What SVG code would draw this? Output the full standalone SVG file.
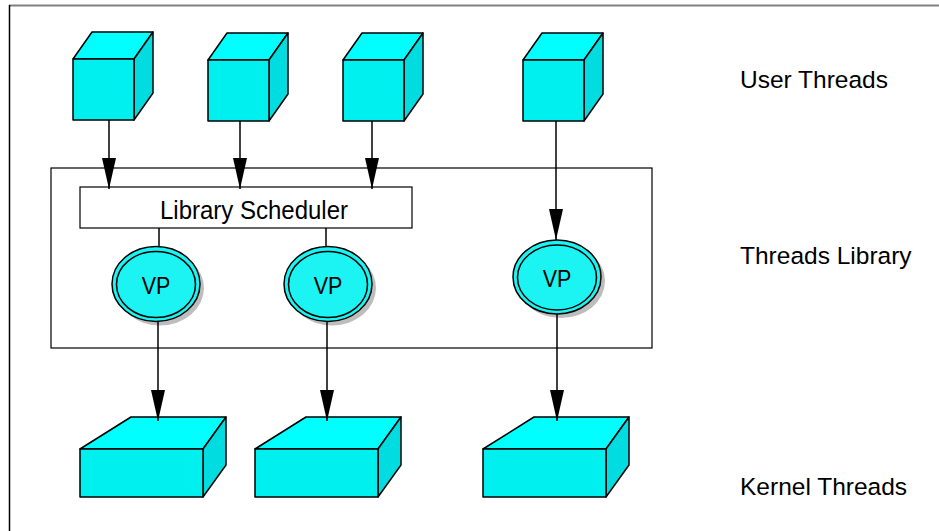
<svg xmlns="http://www.w3.org/2000/svg" width="939" height="531" viewBox="0 0 939 531">
  <style>
    .edge { stroke: #000; stroke-width: 1.5; fill: none; }
    .front { fill: #00F0F0; stroke: #000; stroke-width: 1.5; stroke-linejoin: round; }
    .top { fill: #00FFFF; stroke: #000; stroke-width: 1.5; stroke-linejoin: round; }
    .side { fill: #00DCE0; stroke: #000; stroke-width: 1.5; stroke-linejoin: round; }
    .vp-shadow { fill: #BDBDBD; }
    .vp-ring { fill: #1CF4F4; stroke: #000; stroke-width: 1.5; }
    .vp-core { fill: none; stroke: #000; stroke-width: 1.5; }
    .lbl { font-family: "Liberation Sans", Arial, sans-serif; fill: #000; }
    .box { fill: #fff; stroke: #000; stroke-width: 1.2; }
  </style>
  <defs>
    <marker id="arrow" markerUnits="userSpaceOnUse" markerWidth="31" markerHeight="14" refX="31" refY="7" orient="auto">
      <path d="M0,0 L31,7 L0,14 z" fill="#000"/>
    </marker>
  </defs>

  <rect width="939" height="531" fill="#fff"/>
  <!-- page frame -->
  <line x1="9" y1="5.5" x2="939" y2="5.5" stroke="#808080" stroke-width="2"/>
  <line x1="9.5" y1="5" x2="9.5" y2="531" stroke="#000" stroke-width="1.5"/>

  <!-- threads library container -->
  <g id="library">
    <rect class="box" x="51" y="168" width="601" height="180"/>
  </g>
  <g id="scheduler">
    <rect class="box" x="80" y="187" width="332" height="41"/>
    <text class="lbl" font-size="24" text-anchor="middle" transform="translate(254,219) scale(1,1.06)">Library Scheduler</text>
  </g>

  <!-- user threads -->
  <g id="user1">
    <polygon class="top" points="73,59 92,32 153,32 134,59"/>
    <polygon class="side" points="134,59 153,32 153,93 134,120"/>
    <rect class="front" x="73" y="59" width="61" height="61"/>
  </g>
  <g id="user2">
    <polygon class="top" points="208,60 227,33 288,33 269,60"/>
    <polygon class="side" points="269,60 288,33 288,94 269,121"/>
    <rect class="front" x="208" y="60" width="61" height="61"/>
  </g>
  <g id="user3">
    <polygon class="top" points="343,60 362,33 423,33 404,60"/>
    <polygon class="side" points="404,60 423,33 423,94 404,121"/>
    <rect class="front" x="343" y="60" width="61" height="61"/>
  </g>
  <g id="user4">
    <polygon class="top" points="523,60 542,33 603,33 584,60"/>
    <polygon class="side" points="584,60 603,33 603,94 584,121"/>
    <rect class="front" x="523" y="60" width="61" height="61"/>
  </g>

  <!-- virtual processors -->
  <g id="vp1">
    <ellipse class="vp-shadow" cx="160" cy="288" rx="44" ry="37.5"/>
    <ellipse class="vp-ring" cx="156" cy="284" rx="44" ry="37.5"/>
    <ellipse class="vp-core" cx="156" cy="284.5" rx="39.5" ry="33"/>
    <text class="lbl" font-size="21.5" text-anchor="middle" transform="translate(156,294) scale(1,1.12)">VP</text>
  </g>
  <g id="vp2">
    <ellipse class="vp-shadow" cx="332" cy="288" rx="44" ry="37.5"/>
    <ellipse class="vp-ring" cx="328" cy="284" rx="44" ry="37.5"/>
    <ellipse class="vp-core" cx="328" cy="284.5" rx="39.5" ry="33"/>
    <text class="lbl" font-size="21.5" text-anchor="middle" transform="translate(328,294) scale(1,1.12)">VP</text>
  </g>
  <g id="vp3">
    <ellipse class="vp-shadow" cx="561" cy="281" rx="44" ry="37"/>
    <ellipse class="vp-ring" cx="557" cy="277" rx="44" ry="37"/>
    <ellipse class="vp-core" cx="557" cy="277.5" rx="39.5" ry="32.5"/>
    <text class="lbl" font-size="21.5" text-anchor="middle" transform="translate(557,287) scale(1,1.12)">VP</text>
  </g>

  <!-- kernel threads -->
  <g id="kernel1">
    <polygon class="top" points="80,449 131,417 226,417 203,449"/>
    <polygon class="side" points="203,449 226,417 226,465 203,497"/>
    <rect class="front" x="80" y="449" width="123" height="48"/>
  </g>
  <g id="kernel2">
    <polygon class="top" points="255,449 306,417 401,417 378,449"/>
    <polygon class="side" points="378,449 401,417 401,465 378,497"/>
    <rect class="front" x="255" y="449" width="123" height="48"/>
  </g>
  <g id="kernel3">
    <polygon class="top" points="483,449 534,417 629,417 606,449"/>
    <polygon class="side" points="606,449 629,417 629,465 606,497"/>
    <rect class="front" x="483" y="449" width="123" height="48"/>
  </g>

  <!-- connectors -->
  <g id="connectors" class="edge">
    <path d="M109,120 L109,189" marker-end="url(#arrow)"/>
    <path d="M240,121 L240,189" marker-end="url(#arrow)"/>
    <path d="M372,121 L372,189" marker-end="url(#arrow)"/>
    <path d="M556,121 L556,240" marker-end="url(#arrow)"/>
    <path d="M159,228 L159,247"/>
    <path d="M326,228 L326,247"/>
    <path d="M158,322 L158,421" marker-end="url(#arrow)"/>
    <path d="M327,322 L327,421" marker-end="url(#arrow)"/>
    <path d="M557,314 L557,421" marker-end="url(#arrow)"/>
  </g>

  <!-- layer labels -->
  <g id="labels">
    <text class="lbl" font-size="24.5" x="740" y="88">User Threads</text>
    <text class="lbl" font-size="24.5" x="740" y="264">Threads Library</text>
    <text class="lbl" font-size="24.5" x="740" y="495">Kernel Threads</text>
  </g>
</svg>
